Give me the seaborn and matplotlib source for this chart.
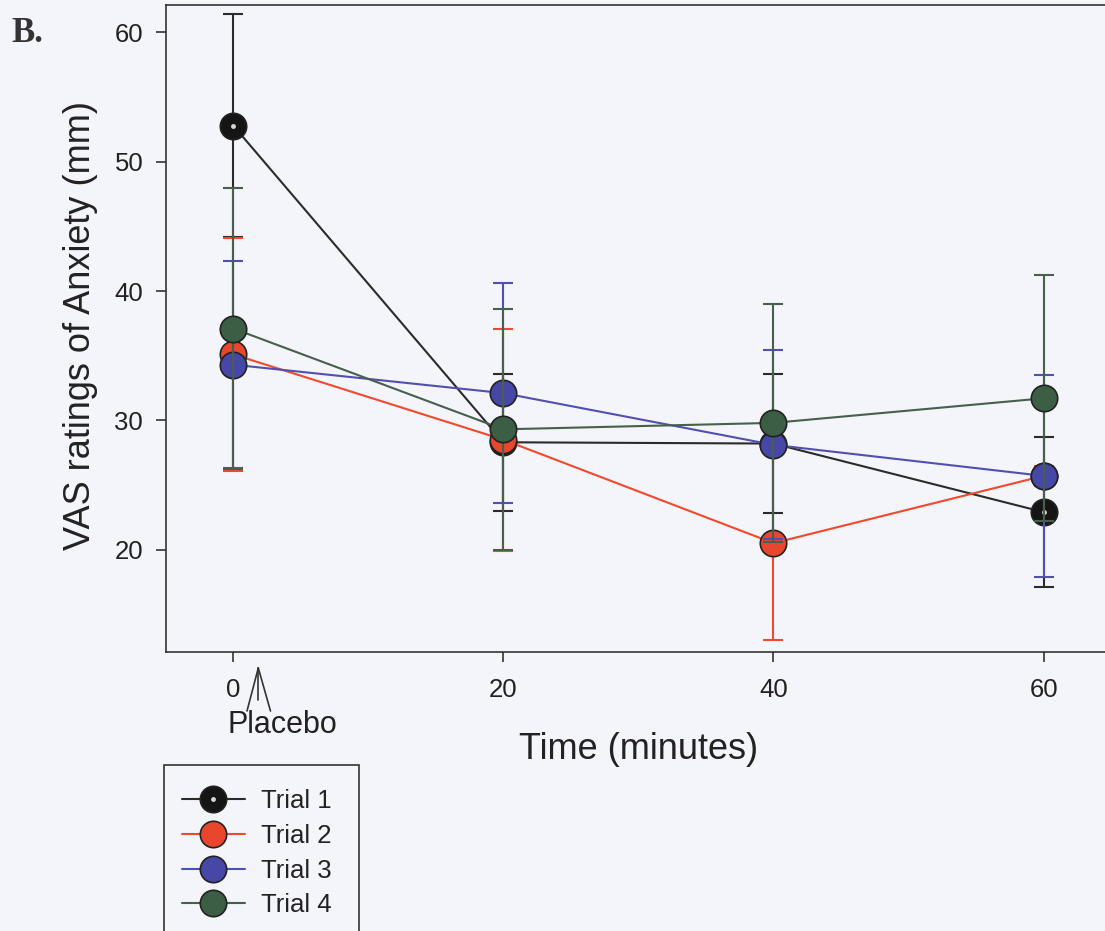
import numpy as np
import pandas as pd
import matplotlib
matplotlib.use("Agg")
import matplotlib.pyplot as plt
import seaborn as sns
from matplotlib.lines import Line2D
from matplotlib.patches import Rectangle
from matplotlib.legend_handler import HandlerTuple

# ---------------- data ----------------
times = [0, 20, 40, 60]
trials = ["Trial 1", "Trial 2", "Trial 3", "Trial 4"]
trial1_mean = [52.8, 28.3, 28.2, 22.9]
trial1_err = [8.6, 5.3, 5.4, 5.8]
trial2_mean = [35.1, 28.5, 20.5, 25.7]
trial2_err = [9.0, 8.6, 7.5, 0.8]
trial3_mean = [34.3, 32.1, 28.1, 25.7]
trial3_err = [8.0, 8.5, 7.3, 7.8]
trial4_mean = [37.1, 29.3, 29.8, 31.7]
trial4_err = [10.9, 9.3, 9.2, 9.5]
x_ticks = [0, 20, 40, 60]
y_ticks = [20, 30, 40, 50, 60]

means = [trial1_mean, trial2_mean, trial3_mean, trial4_mean]
errs = [trial1_err, trial2_err, trial3_err, trial4_err]

df = pd.DataFrame({
    "time": times * len(trials),
    "vas": [v for m in means for v in m],
    "err": [v for e in errs for v in e],
    "trial": [t for t in trials for _ in times],
})

# ---------------- style ----------------
sns.set_style("ticks")
plt.rcParams["font.family"] = ["Liberation Sans", "DejaVu Sans"]

W, H = 1105, 931
bg = "#f4f4fb"
fill_colors = ["#151515", "#e8472e", "#4747a8", "#3c5e45"]
line_colors = ["#2b2b2b", "#f0492c", "#5050b0", "#46604a"]
edge = "#222222"
axc = "#333333"
lw = 1.5
msize = 19

fig = plt.figure(figsize=(W / 100, H / 100), dpi=100, facecolor=bg)
ax = fig.add_axes([165.7 / W, 1 - 651.7 / H, 945.4 / W, 646.4 / H])
ax.set_facecolor(bg)

sns.lineplot(data=df, x="time", y="vas", hue="trial", hue_order=trials,
             palette=line_colors, linewidth=lw, marker="o", markersize=msize,
             markeredgecolor=edge, markeredgewidth=1.2, errorbar=None,
             legend=False, ax=ax)

lines = [l for l in ax.lines]
for i, ln in enumerate(lines):
    ln.set_markerfacecolor(fill_colors[i])
    ln.set_zorder(3 + 2 * i + 1)

for i, t in enumerate(trials):
    sub = df[df["trial"] == t]
    eb = ax.errorbar(sub["time"], sub["vas"], yerr=sub["err"], fmt="none",
                     ecolor=line_colors[i], elinewidth=lw, capsize=7.5,
                     capthick=lw, zorder=3 + 2 * i)
    for art in eb.lines[1] + eb.lines[2]:
        art.set_zorder(3 + 2 * i)
    if i == 0:
        ax.plot(sub["time"], sub["vas"], ls="none", marker="o", markersize=3.5,
                markerfacecolor="#d8d8d8", markeredgecolor="none", zorder=4.5)

ax.set_xlim(-5, 65)
ax.set_ylim(12.1, 62.1)
ax.set_xticks(x_ticks)
ax.set_yticks(y_ticks)
ax.tick_params(axis="both", direction="out", length=7.2, width=1.2,
               color=axc, labelsize=18.5, labelcolor="#222222")
ax.tick_params(axis="y", pad=9)
ax.tick_params(axis="x", pad=12)
for s in ax.spines.values():
    s.set_color(axc)
    s.set_linewidth(1.2)

ax.set_xlabel("Time (minutes)", fontsize=26, color="#222222")
ax.set_ylabel("VAS ratings of Anxiety (mm)", fontsize=26, color="#222222")
ax.xaxis.set_label_coords(0.5, -0.124)
ax.yaxis.set_label_coords(-0.072, 0.505)

# legend
handles = []
for i in range(4):
    h = Line2D([], [], color=line_colors[i], lw=lw, marker="o", markersize=msize,
               markerfacecolor=fill_colors[i], markeredgecolor=edge,
               markeredgewidth=1.2)
    if i == 0:
        dot = Line2D([], [], ls="none", marker="o", markersize=3.5,
                     markerfacecolor="#d8d8d8", markeredgecolor="none")
        handles.append((h, dot))
    else:
        handles.append(h)
ax.legend(handles=handles, labels=trials, loc="upper left",
          bbox_to_anchor=(182 / W, 1 - 789 / H), bbox_transform=fig.transFigure,
          frameon=False, fontsize=18.5, handlelength=2.45, handletextpad=0.62,
          labelspacing=0.42, borderpad=0, borderaxespad=0,
          handler_map={tuple: HandlerTuple(ndivide=1)})
for txt in ax.get_legend().get_texts():
    txt.set_color("#222222")

fig.add_artist(Rectangle((164 / W, -0.02), (359 - 164) / W, (1 - 765 / H) + 0.02,
                         transform=fig.transFigure, fill=False, edgecolor=axc,
                         linewidth=1.2))

# Placebo arrow
tipx, tipy = 258.3, 668
for (x0, y0) in [(258.3, 700), (247, 711), (270.5, 711)]:
    fig.add_artist(Line2D([tipx / W, x0 / W], [1 - tipy / H, 1 - y0 / H],
                          transform=fig.transFigure, color=axc, lw=1.2))
fig.text(282 / W, 1 - 725 / H, "Placebo", ha="center", va="center",
         fontsize=22, color="#222222")

fig.text(11 / W, 1 - 34 / H, "B.", ha="left", va="center", fontsize=25,
         fontweight="bold", family=["Liberation Serif", "DejaVu Serif"],
         color="#333333")

fig.savefig("out.png", dpi=100, facecolor=bg)
